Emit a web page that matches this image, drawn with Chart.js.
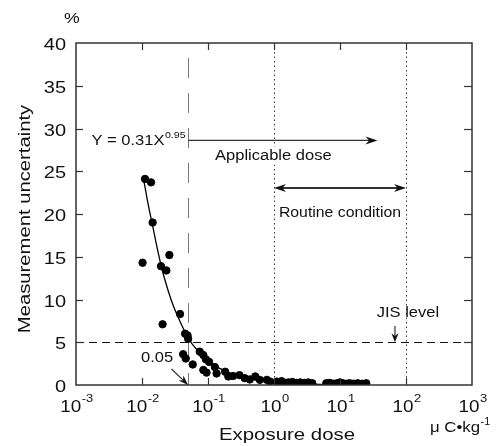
<!DOCTYPE html>
<html>
<head>
<meta charset="utf-8">
<script src="https://cdn.jsdelivr.net/npm/chart.js@4.4.1/dist/chart.umd.min.js"></script>
<style>
  html, body { margin: 0; padding: 0; background: #fff; }
  #wrap { width: 500px; height: 446px; }
</style>
</head>
<body>
<div id="wrap"><canvas id="doseChart" width="500" height="446"></canvas></div>
<script>
// measured points: exposure dose (uC/kg) vs measurement uncertainty (%)
const doseX = [
  0.0111, 0.0137, 0.0145, 0.0102, 0.026, 0.0194, 0.0234, 0.0377, 0.0205,
  0.045, 0.049, 0.050, 0.042, 0.046, 0.0587, 0.075, 0.085, 0.093, 0.104,
  0.127, 0.085, 0.095, 0.135, 0.182, 0.203, 0.24, 0.30, 0.36, 0.43, 0.52,
  0.61, 0.78, 0.87, 1.1, 1.3, 1.4, 1.65, 1.9, 2.2, 2.5, 2.9, 3.3, 3.8,
  6.2, 7.0, 8.0, 9.0, 10.0, 11.0, 12.5, 14.0, 16.0, 18.5, 21.5, 25.0
]
const uncertaintyY = [
  24.1, 23.7, 19.0, 14.3, 15.2, 13.9, 13.4, 8.3, 7.1,
  6.0, 5.8, 5.4, 3.6, 3.1, 2.4, 3.9, 3.5, 3.0, 2.7,
  2.1, 1.75, 1.45, 1.35, 1.55, 1.0, 1.05, 1.15, 0.8, 0.65, 1.0,
  0.6, 0.6, 0.4, 0.4, 0.45, 0.3, 0.3, 0.35, 0.25, 0.3, 0.25, 0.3, 0.2,
  0.2, 0.25, 0.15, 0.2, 0.3, 0.2, 0.15, 0.2, 0.15, 0.2, 0.15, 0.2
]

// fitted power curve Y = 0.31X^-0.95 as traced
const fitX = [0.0105, 0.0125, 0.0145, 0.017, 0.02, 0.025, 0.03, 0.04, 0.05, 0.07, 0.1, 0.15, 0.2, 0.3, 0.5, 1, 2, 5, 10, 25]
const fitY = [24.2, 21.0, 18.6, 16.0, 13.6, 11.0, 9.2, 7.0, 5.5, 4.0, 2.9, 1.95, 1.5, 1.0, 0.62, 0.33, 0.18, 0.08, 0.05, 0.03]

const xTickExponents = [-3, -2, -1, 0, 1, 2, 3]
const yTickValues = [0, 5, 10, 15, 20, 25, 30, 35, 40]

const FONT = "'Liberation Sans', Arial, sans-serif"
// the lettering is set a little wide
const WIDE = 1.18

function txt(ctx, s, x, y, size, align, sx) {
  ctx.save()
  ctx.font = size + "px " + FONT
  ctx.textAlign = align || "left"
  ctx.textBaseline = "alphabetic"
  ctx.translate(x, y)
  ctx.scale(sx || WIDE, 1)
  ctx.fillText(s, 0, 0)
  ctx.restore()
}

function textWidth(ctx, s, size, sx) {
  ctx.font = size + "px " + FONT
  return ctx.measureText(s).width * (sx || WIDE)
}

function arrowHead(ctx, x, y, dir, len, half) {
  // dir: angle in radians the arrow points to
  ctx.beginPath()
  ctx.moveTo(x, y)
  ctx.lineTo(x - len * Math.cos(dir) - half * Math.sin(dir), y - len * Math.sin(dir) + half * Math.cos(dir))
  ctx.lineTo(x - len * Math.cos(dir) * 0.7, y - len * Math.sin(dir) * 0.7)
  ctx.lineTo(x - len * Math.cos(dir) + half * Math.sin(dir), y - len * Math.sin(dir) - half * Math.cos(dir))
  ctx.closePath()
  ctx.fill()
}

function line(ctx, x1, y1, x2, y2) {
  ctx.beginPath()
  ctx.moveTo(x1, y1)
  ctx.lineTo(x2, y2)
  ctx.stroke()
}

// guide lines under the data, frame and annotations on top
const guides = {
  id: "guides",
  beforeDatasetsDraw(chart) {
    const { ctx, chartArea: a, scales: { x, y } } = chart
    ctx.save()
    ctx.strokeStyle = "#111"
    ctx.lineWidth = 1
    // JIS level
    ctx.setLineDash([8, 5])
    const y5 = Math.round(y.getPixelForValue(5)) + 0.5
    line(ctx, a.left, y5, a.right, y5)
    // 0.05 lower limit
    ctx.strokeStyle = "#777"
    ctx.setLineDash([20, 15])
    const x05 = Math.round(x.getPixelForValue(0.05)) + 0.5
    line(ctx, x05, a.top + 15, x05, a.bottom)
    // routine condition range
    ctx.strokeStyle = "#333"
    ctx.setLineDash([1.5, 3])
    for (const v of [1, 100]) {
      const px = Math.round(x.getPixelForValue(v)) + 0.5
      line(ctx, px, a.top, px, a.bottom)
    }
    ctx.restore()
  },
  afterDraw(chart) {
    const { ctx, chartArea: a, scales: { x, y } } = chart
    ctx.save()
    ctx.fillStyle = "#111"
    ctx.strokeStyle = "#333"

    // frame
    ctx.lineWidth = 1.5
    ctx.strokeRect(a.left, a.top, a.right - a.left, a.bottom - a.top)

    // inward ticks
    ctx.lineWidth = 1.2
    for (const e of xTickExponents) {
      const px = Math.round(x.getPixelForValue(Math.pow(10, e))) + 0.5
      if (e > -3 && e < 3) {
        line(ctx, px, a.bottom, px, a.bottom - 7)
        line(ctx, px, a.top, px, a.top + 7)
      }
      // decade labels with superscript exponent
      const ex = e < 0 ? "-" + (-e) : String(e)
      const w1 = textWidth(ctx, "10", 16)
      const w2 = textWidth(ctx, ex, 11)
      const left = px - (w1 + w2) / 2
      txt(ctx, "10", left, 412, 16, "left")
      txt(ctx, ex, left + w1 + 0.5, 402, 11, "left")
    }
    for (const v of yTickValues) {
      const py = Math.round(y.getPixelForValue(v)) + 0.5
      if (v > 0 && v < 40) {
        line(ctx, a.left, py, a.left + 7, py)
        line(ctx, a.right, py, a.right - 8, py)
      }
      txt(ctx, String(v), a.left - 10, py + 6, 16, "right", 1.25)
    }

    // axis titles and units
    txt(ctx, "%", 64, 23, 15, "left")
    txt(ctx, "Exposure dose", 287, 440, 17, "center", 1.2)
    ctx.save()
    ctx.translate(30, 219)
    ctx.rotate(-Math.PI / 2)
    txt(ctx, "Measurement uncertainty", 0, 0, 17, "center", 1.19)
    ctx.restore()
    const unit = "\u03bc C\u2022kg"
    txt(ctx, unit, 430, 432, 15, "left", 1.12)
    txt(ctx, "-1", 430 + textWidth(ctx, unit, 15, 1.12) + 0.5, 425, 10, "left", 1.08)

    // fit equation
    const x05 = x.getPixelForValue(0.05)
    const yEq = y.getPixelForValue(28.6)
    const wsup = textWidth(ctx, "0.95", 9)
    const weq = textWidth(ctx, "Y = 0.31X", 14)
    const eqLeft = x05 - 3 - wsup - weq
    txt(ctx, "Y = 0.31X", eqLeft, yEq + 5, 14, "left")
    txt(ctx, "0.95", eqLeft + weq + 0.5, yEq - 2, 9, "left")

    // applicable dose arrow
    ctx.lineWidth = 1.3
    const xEnd = x.getPixelForValue(37)
    line(ctx, x05, yEq, xEnd - 6, yEq)
    arrowHead(ctx, xEnd, yEq, 0, 12, 4)
    const labelApp = "Applicable dose"
    const wApp = textWidth(ctx, labelApp, 14)
    ctx.fillStyle = "#fff"
    ctx.fillRect(213, yEq + 6, wApp + 4, 18)
    ctx.fillStyle = "#111"
    txt(ctx, labelApp, 215, yEq + 20, 14, "left")

    // routine condition double arrow
    const r1 = x.getPixelForValue(1), r2 = x.getPixelForValue(100)
    const yR = y.getPixelForValue(23.05)
    ctx.lineWidth = 2
    line(ctx, r1 + 8, yR, r2 - 8, yR)
    arrowHead(ctx, r1, yR, Math.PI, 12, 4)
    arrowHead(ctx, r2, yR, 0, 12, 4)
    const labelRoutine = "Routine condition"
    const wR = textWidth(ctx, labelRoutine, 14, 1.13)
    ctx.fillStyle = "#fff"
    ctx.fillRect((r1 + r2) / 2 - wR / 2 - 1, yR + 15, wR + 2, 17)
    ctx.fillStyle = "#111"
    txt(ctx, labelRoutine, (r1 + r2) / 2, yR + 29, 14, "center", 1.13)

    // JIS level pointer
    const xJ = x.getPixelForValue(68)
    txt(ctx, "JIS level", xJ + 13, y.getPixelForValue(7.9), 14, "center")
    ctx.lineWidth = 1.2
    line(ctx, xJ, y.getPixelForValue(6.9), xJ, y.getPixelForValue(5) - 6)
    arrowHead(ctx, xJ, y.getPixelForValue(5), Math.PI / 2, 9, 3.5)

    // 0.05 pointer
    txt(ctx, "0.05", 141, 362, 14, "left")
    const ax1 = x.getPixelForValue(0.028), ay1 = y.getPixelForValue(1.87)
    const ax2 = x.getPixelForValue(0.05), ay2 = y.getPixelForValue(0)
    const ang = Math.atan2(ay2 - ay1, ax2 - ax1)
    line(ctx, ax1, ay1, ax2 - 7 * Math.cos(ang), ay2 - 7 * Math.sin(ang))
    arrowHead(ctx, ax2, ay2, ang, 10, 3.5)

    ctx.restore()
  }
}

new Chart(document.getElementById("doseChart"), {
  type: "scatter",
  data: {
    datasets: [
      {
        label: "Measured",
        data: doseX.map((v, i) => ({ x: v, y: uncertaintyY[i] })),
        backgroundColor: "#000",
        borderColor: "#000",
        pointRadius: 3.7,
        pointHoverRadius: 3.7,
        order: 1,
      },
      {
        type: "line",
        label: "Fit",
        data: fitX.map((v, i) => ({ x: v, y: fitY[i] })),
        borderColor: "#000",
        borderWidth: 1.3,
        pointRadius: 0,
        fill: false,
        cubicInterpolationMode: "monotone",
        order: 2,
      },
    ],
  },
  options: {
    responsive: false,
    animation: false,
    events: [],
    layout: { padding: { left: 76, right: 28, top: 43, bottom: 61 } },
    plugins: {
      legend: { display: false },
      tooltip: { enabled: false },
    },
    scales: {
      x: { type: "logarithmic", min: 0.001, max: 1000, display: false },
      y: { type: "linear", min: 0, max: 40, display: false },
    },
  },
  plugins: [guides],
})
</script>
</body>
</html>
